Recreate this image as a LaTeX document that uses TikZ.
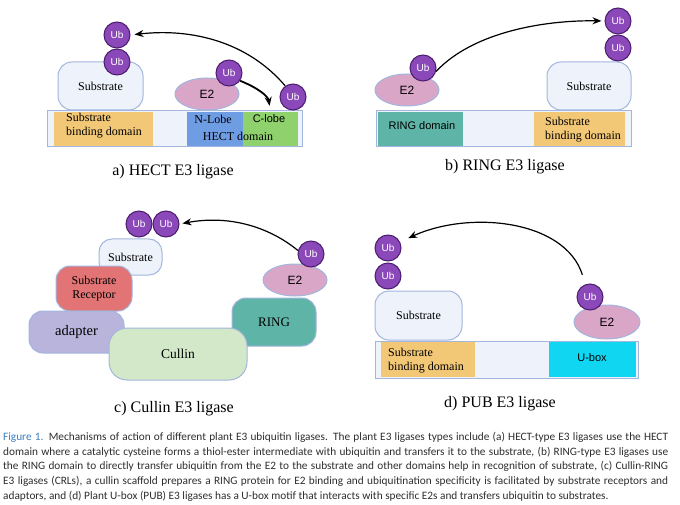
\documentclass[tikz,border=0pt]{standalone}
\usepackage{fontspec}
\setmainfont{Liberation Serif}
\setsansfont{Liberation Sans}
\newfontfamily\capfont{Carlito}
\usetikzlibrary{shapes.geometric,arrows.meta}
\definecolor{ubfill}{HTML}{8B48B8}
\definecolor{ubline}{HTML}{4B1D6E}
\definecolor{paleblue}{HTML}{EEF2FB}
\definecolor{edgeblue}{HTML}{A3B6DD}
\definecolor{sbdorange}{HTML}{F2C877}
\definecolor{nlobe}{HTML}{6F9DE3}
\definecolor{clobe}{HTML}{8ED16D}
\definecolor{ringteal}{HTML}{5EB4A7}
\definecolor{etwopink}{HTML}{D9A6C8}
\definecolor{receptred}{HTML}{E27475}
\definecolor{adaptlav}{HTML}{B8B4DB}
\definecolor{cullgreen}{HTML}{D2E8C8}
\definecolor{uboxcyan}{HTML}{10D6F2}
\definecolor{figblue}{HTML}{3A7FC1}
\definecolor{captext}{HTML}{2E2E2E}

\begin{document}
\begin{tikzpicture}[x=1pt, y=-1pt,
  ub/.style={circle, draw=ubline, line width=1pt, fill=ubfill, minimum size=26pt, inner sep=0pt, text=white, font=\sffamily\fontsize{10}{10}\selectfont},
  etwo/.style={ellipse, draw=edgeblue, line width=1pt, fill=etwopink, minimum width=64pt, minimum height=32pt, inner sep=0pt, font=\sffamily\fontsize{12}{12}\selectfont},
  blob/.style={rounded corners=14pt, draw=edgeblue, line width=1pt, fill=paleblue, inner sep=0pt, align=center, font=\fontsize{12}{14}\selectfont},
  barbox/.style={draw=edgeblue, line width=1pt, fill=paleblue, inner sep=0pt},
  domainbox/.style={minimum height=34pt, inner sep=0pt},
  lbl/.style={inner sep=0pt, align=left, font=\fontsize{12}{14}\selectfont},
  sanslbl/.style={inner sep=0pt, font=\sffamily\fontsize{11}{13}\selectfont},
  titletext/.style={inner sep=0pt, font=\fontsize{16}{16}\selectfont},
  arr/.style={-{Stealth[length=9pt,width=7pt]}, line width=1.2pt},
]
\useasboundingbox (0,0) rectangle (680,505);
\fill[white] (0,0) rectangle (680,505);

% a) HECT
\node[barbox, minimum width=255pt, minimum height=36pt] (barA) at (174.5,129) {};
\node[domainbox, fill=sbdorange, minimum width=99pt] (sbdA) at (103.5,129) {};
\node[domainbox, fill=nlobe, minimum width=56pt] (nlobeA) at (215,129) {};
\node[domainbox, fill=clobe, minimum width=55pt] (clobeA) at (270.5,129) {};
\node[lbl, anchor=west] (sbdAt) at (66,126) {Substrate\\binding domain};
\node[lbl] (nlobeAt) at (213,119) {N-Lobe};
\node[sanslbl] (clobeAt) at (269,119) {C-lobe};
\node[lbl] (hectAt) at (238,136) {HECT domain};
\node[blob, minimum width=85pt, minimum height=48pt] (subA) at (100.5,86) {Substrate};
\node[ub] (ubA1) at (117,35) {Ub};
\node[ub] (ubA2) at (117,62) {Ub};
\node[etwo] (etwoA) at (207,94) {E2};
\node[ub] (ubA3) at (229,73) {Ub};
\node[ub] (ubA4) at (293,97) {Ub};
\draw[arr, shorten >=4pt] (ubA4.125) .. controls (248,42) and (192,28) .. (ubA1.east);
\draw[arr, line width=1.8pt, shorten >=6pt] (ubA3.-35) .. controls (258,88) and (268,96) .. (clobeA.north);
\node[titletext] (capA) at (173,172) {a) HECT E3 ligase};

% b) RING
\node[barbox, minimum width=255pt, minimum height=36pt] (barB) at (503.5,129) {};
\node[domainbox, fill=ringteal, minimum width=85pt] (ringB) at (420.5,129) {};
\node[domainbox, fill=sbdorange, minimum width=91pt] (sbdB) at (579.5,129) {};
\node[sanslbl] (ringBt) at (422,126) {RING domain};
\node[lbl, anchor=west] (sbdBt) at (545,130) {Substrate\\binding domain};
\node[blob, minimum width=84pt, minimum height=48pt] (subB) at (589,86) {Substrate};
\node[ub] (ubB1) at (618,21) {Ub};
\node[ub] (ubB2) at (618,48) {Ub};
\node[etwo] (etwoB) at (407,90) {E2};
\node[ub] (ubB3) at (423,68) {Ub};
\draw[arr, shorten >=3pt] (ubB3.-15) .. controls (475,30) and (550,20) .. (ubB1.west);
\node[titletext] (capB) at (505,167) {b) RING E3 ligase};

% c) Cullin
\node[blob, minimum width=63pt, minimum height=36pt, rounded corners=13pt] (subC) at (130.5,257) {Substrate};
\node[blob, fill=receptred, minimum width=76pt, minimum height=45pt] (recC) at (94,288.5) {Substrate\\Receptor};
\node[blob, fill=ringteal, minimum width=84pt, minimum height=48pt, font=\fontsize{13}{14}\selectfont] (ringC) at (274,322) {RING};
\node[blob, fill=adaptlav, minimum width=95pt, minimum height=42pt, font=\fontsize{14.5}{16}\selectfont] (adaC) at (76.5,332) {adapter};
\node[blob, fill=cullgreen, minimum width=138pt, minimum height=52pt, rounded corners=18pt, font=\fontsize{13.5}{15}\selectfont] (culC) at (178,354) {Cullin};
\node[etwo] (etwoC) at (295,280) {E2};
\node[ub] (ubC1) at (139,224) {Ub};
\node[ub] (ubC2) at (166,224) {Ub};
\node[ub] (ubC3) at (311,254) {Ub};
\draw[arr, shorten >=3pt] (ubC3.165) .. controls (268,226) and (228,215) .. (ubC2.east);
\node[titletext] (capC) at (174,409) {c) Cullin E3 ligase};

% d) PUB
\node[barbox, minimum width=263pt, minimum height=37pt] (barD) at (506.5,359.5) {};
\node[domainbox, fill=sbdorange, minimum width=94pt, minimum height=35pt] (sbdD) at (428,359.5) {};
\node[domainbox, fill=uboxcyan, minimum width=87pt, minimum height=35pt] (uboxD) at (592.5,359.5) {};
\node[lbl, anchor=west] (sbdDt) at (388,361) {Substrate\\binding domain};
\node[sanslbl] (uboxDt) at (592,358) {U-box};
\node[blob, minimum width=87pt, minimum height=49pt] (subD) at (418.5,315.5) {Substrate};
\node[ub] (ubD1) at (388,248) {Ub};
\node[ub] (ubD2) at (388,276) {Ub};
\node[etwo, minimum width=66pt, minimum height=34pt] (etwoD) at (607,322) {E2};
\node[ub] (ubD3) at (590,297) {Ub};
\draw[arr, shorten <=10pt, shorten >=9pt] (ubD3.110) .. controls (565,220) and (470,210) .. (ubD1.27);
\node[titletext] (capD) at (500,404) {d) PUB E3 ligase};

% figure caption
\node[anchor=north west, inner sep=0pt, text width=665pt, align=justify, text=captext,
  font=\capfont\fontsize{11.3}{14.7}\selectfont] (figcap) at (3,432)
  {\hyphenpenalty=10000\exhyphenpenalty=10000
  {\color{figblue}Figure 1.} Mechanisms of action of different plant E3 ubiquitin ligases. The plant E3 ligases types include (a) HECT-type E3 ligases use the HECT\linebreak
  domain where a catalytic cysteine forms a thiol-ester intermediate with ubiquitin and transfers it to the substrate, (b) RING-type E3 ligases use\linebreak
  the RING domain to directly transfer ubiquitin from the E2 to the substrate and other domains help in recognition of substrate, (c) Cullin-RING\linebreak
  E3 ligases (CRLs), a cullin scaffold prepares a RING protein for E2 binding and ubiquitination specificity is facilitated by substrate receptors and\linebreak
  adaptors, and (d) Plant U-box (PUB) E3 ligases has a U-box motif that interacts with specific E2s and transfers ubiquitin to substrates.};
\end{tikzpicture}
\end{document}
